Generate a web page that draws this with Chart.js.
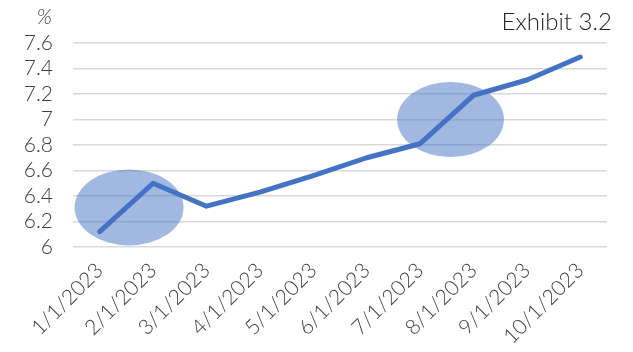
<!DOCTYPE html>
<html><head><meta charset="utf-8">
<script src="https://cdn.jsdelivr.net/npm/chart.js@4"></script>
<style>html,body{margin:0;padding:0;background:#fff}#wrap{width:633px;height:352px}</style>
</head><body><div id="wrap"><canvas id="c" width="633" height="352"></canvas></div>
<script>
const categories = ['1/1/2023','2/1/2023','3/1/2023','4/1/2023','5/1/2023','6/1/2023','7/1/2023','8/1/2023','9/1/2023','10/1/2023'];
const rates = [6.12, 6.50, 6.32, 6.43, 6.56, 6.70, 6.81, 7.19, 7.31, 7.49];
const yMin = 6, yMax = 7.6, yStep = 0.2;
const unitLabel = '%';
const titleText = 'Exhibit 3.2';
// highlight ellipses: centre (category index, value) and half-extent (category units, value units)
const highlightX = [0.55, 6.57];
const highlightY = [6.31, 7.0];
const highlightRX = [1.02, 1.0];
const highlightRY = [0.298, 0.295];

const FONT = 'Lato, "Open Sans", sans-serif';

const highlightPlugin = {
  id: 'highlights',
  beforeDatasetsDraw(chart) {
    const ctx = chart.ctx, xs = chart.scales.x, ys = chart.scales.y;
    ctx.save();
    for (let i = 0; i < highlightX.length; i++) {
      const cx = xs.getPixelForValue(highlightX[i]);
      const cy = ys.getPixelForValue(highlightY[i]);
      const rx = Math.abs(xs.getPixelForValue(highlightX[i] + highlightRX[i]) - cx);
      const ry = Math.abs(ys.getPixelForValue(highlightY[i] + highlightRY[i]) - cy);
      ctx.beginPath();
      ctx.ellipse(cx, cy, rx, ry, 0, 0, Math.PI * 2);
      ctx.fillStyle = 'rgba(68,114,196,0.5)';
      ctx.fill();
    }
    ctx.restore();
  }
};

const textPlugin = {
  id: 'texts',
  afterDraw(chart) {
    const ctx = chart.ctx;
    ctx.save();
    ctx.fillStyle = '#404040';
    ctx.font = 'italic 300 21px ' + FONT;
    ctx.textBaseline = 'middle';
    ctx.textAlign = 'right';
    ctx.fillText(unitLabel, 52, 17);
    ctx.font = '300 24px ' + FONT;
    ctx.fillStyle = '#262626';
    ctx.fillText(titleText, 612, 22);
    ctx.restore();
  }
};

new Chart(document.getElementById('c'), {
  type: 'line',
  data: {
    labels: categories,
    datasets: [{
      data: rates,
      borderColor: '#4472C4',
      borderWidth: 5,
      pointRadius: 0,
      tension: 0,
      borderCapStyle: 'round',
      borderJoinStyle: 'round'
    }]
  },
  options: {
    responsive: false,
    animation: false,
    layout: { padding: { left: 0, right: 26, top: 43, bottom: 0 } },
    plugins: { legend: { display: false }, tooltip: { enabled: false }, title: { display: false } },
    scales: {
      x: {
        type: 'category',
        offset: true,
        grid: { display: false, drawTicks: false },
        border: { display: false },
        ticks: {
          color: '#404040',
          font: { family: FONT, size: 21, weight: 300 },
          maxRotation: 45, minRotation: 45,
          autoSkip: false,
          padding: 11
        },
        afterFit(s) { s.height = 105; }
      },
      y: {
        min: yMin, max: yMax,
        grid: { color: '#d9d9d9', lineWidth: 1.5, drawTicks: false },
        border: { display: false },
        ticks: {
          stepSize: yStep,
          autoSkip: false,
          color: '#404040',
          font: { family: FONT, size: 21, weight: 300 },
          padding: 20,
          callback: v => String(+Number(v).toFixed(1))
        },
        afterFit(s) { s.width = 73; }
      }
    }
  },
  plugins: [highlightPlugin, textPlugin]
});
</script>
</body></html>
